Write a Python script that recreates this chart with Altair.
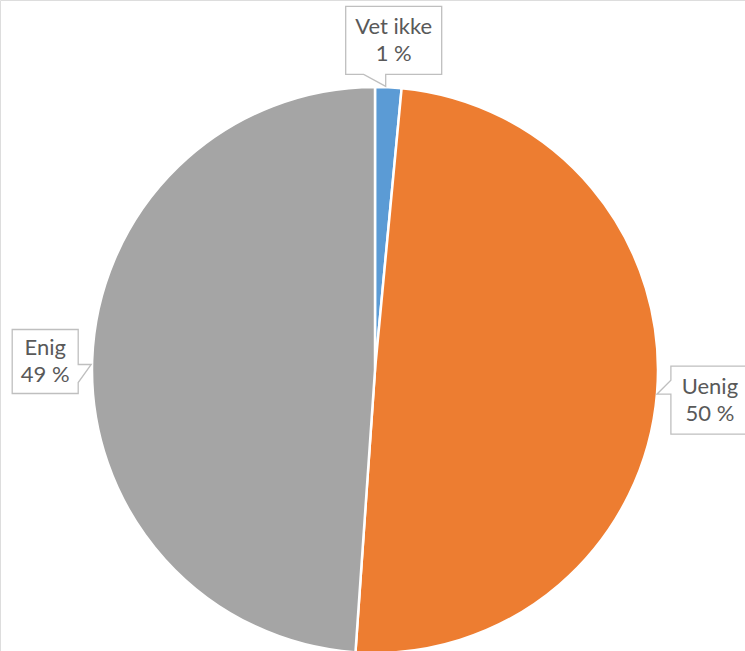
import altair as alt
import pandas as pd

categories = ["Vet ikke", "Uenig", "Enig"]
values = [1.5, 49.6, 48.9]
pct_labels = ["1 %", "50 %", "49 %"]
order = [0, 1, 2]
colors = ["#5B9BD5", "#ED7D31", "#A5A5A5"]

# callout box outlines (relative to label centre, pixel units)
box_paths = [
    "M-48,-34 L48,-34 L48,34 L-8,34 L-8,46 L-30,34 L-48,34 Z",
    "M-39,-34 L40,-34 L40,34 L-39,34 L-39,-6 L-53,-6 L-39,-20 Z",
    "M-33,-32 L33,-32 L33,3 L46,3 L33,21 L33,32 L-33,32 Z",
]

df = pd.DataFrame({"cat": categories, "value": values, "pct": pct_labels, "ord": order})

CX, CY, R, LR = 375, 370, 283, 333

base = alt.Chart(df)

pie = base.mark_arc(stroke="white", strokeWidth=2.5).encode(
    theta=alt.Theta("value:Q", stack=True),
    order=alt.Order("ord:Q"),
    color=alt.Color("cat:N", scale=alt.Scale(domain=categories, range=colors), legend=None),
    x=alt.value(CX),
    y=alt.value(CY),
    radius=alt.value(R),
)

lab = base.transform_joinaggregate(total="sum(value)").transform_window(
    cum="sum(value)", sort=[alt.SortField("ord")], frame=[None, 0]
).transform_calculate(
    mid="(datum.cum - datum.value/2) / datum.total * 2 * PI",
).transform_calculate(
    lx=f"{CX + 3} + {LR} * sin(datum.mid)",
    ly=f"{CY + 3} - {LR} * cos(datum.mid)",
    label="datum.cat + '\\n' + datum.pct",
)

boxes = lab.mark_point(filled=True, fill="white", stroke="#BFBFBF", strokeWidth=1.3, opacity=1).encode(
    x=alt.X("lx:Q", scale=None),
    y=alt.Y("ly:Q", scale=None),
    shape=alt.Shape("cat:N", scale=alt.Scale(domain=categories, range=box_paths), legend=None),
    size=alt.value(4),
)

texts = lab.mark_text(
    font="Lato", fontSize=22, color="#595959", lineBreak="\n", lineHeight=27,
    align="center", baseline="middle", dy=-13,
).encode(
    x=alt.X("lx:Q", scale=None),
    y=alt.Y("ly:Q", scale=None),
    text="label:N",
)

chart = alt.layer(pie, boxes, texts).properties(
    width=745, height=651, padding=0, autosize=alt.AutoSizeParams(type="none")
).configure_view(stroke=None).configure(background="white")

chart.save("out.html", embed_options={"renderer": "svg", "actions": False})
